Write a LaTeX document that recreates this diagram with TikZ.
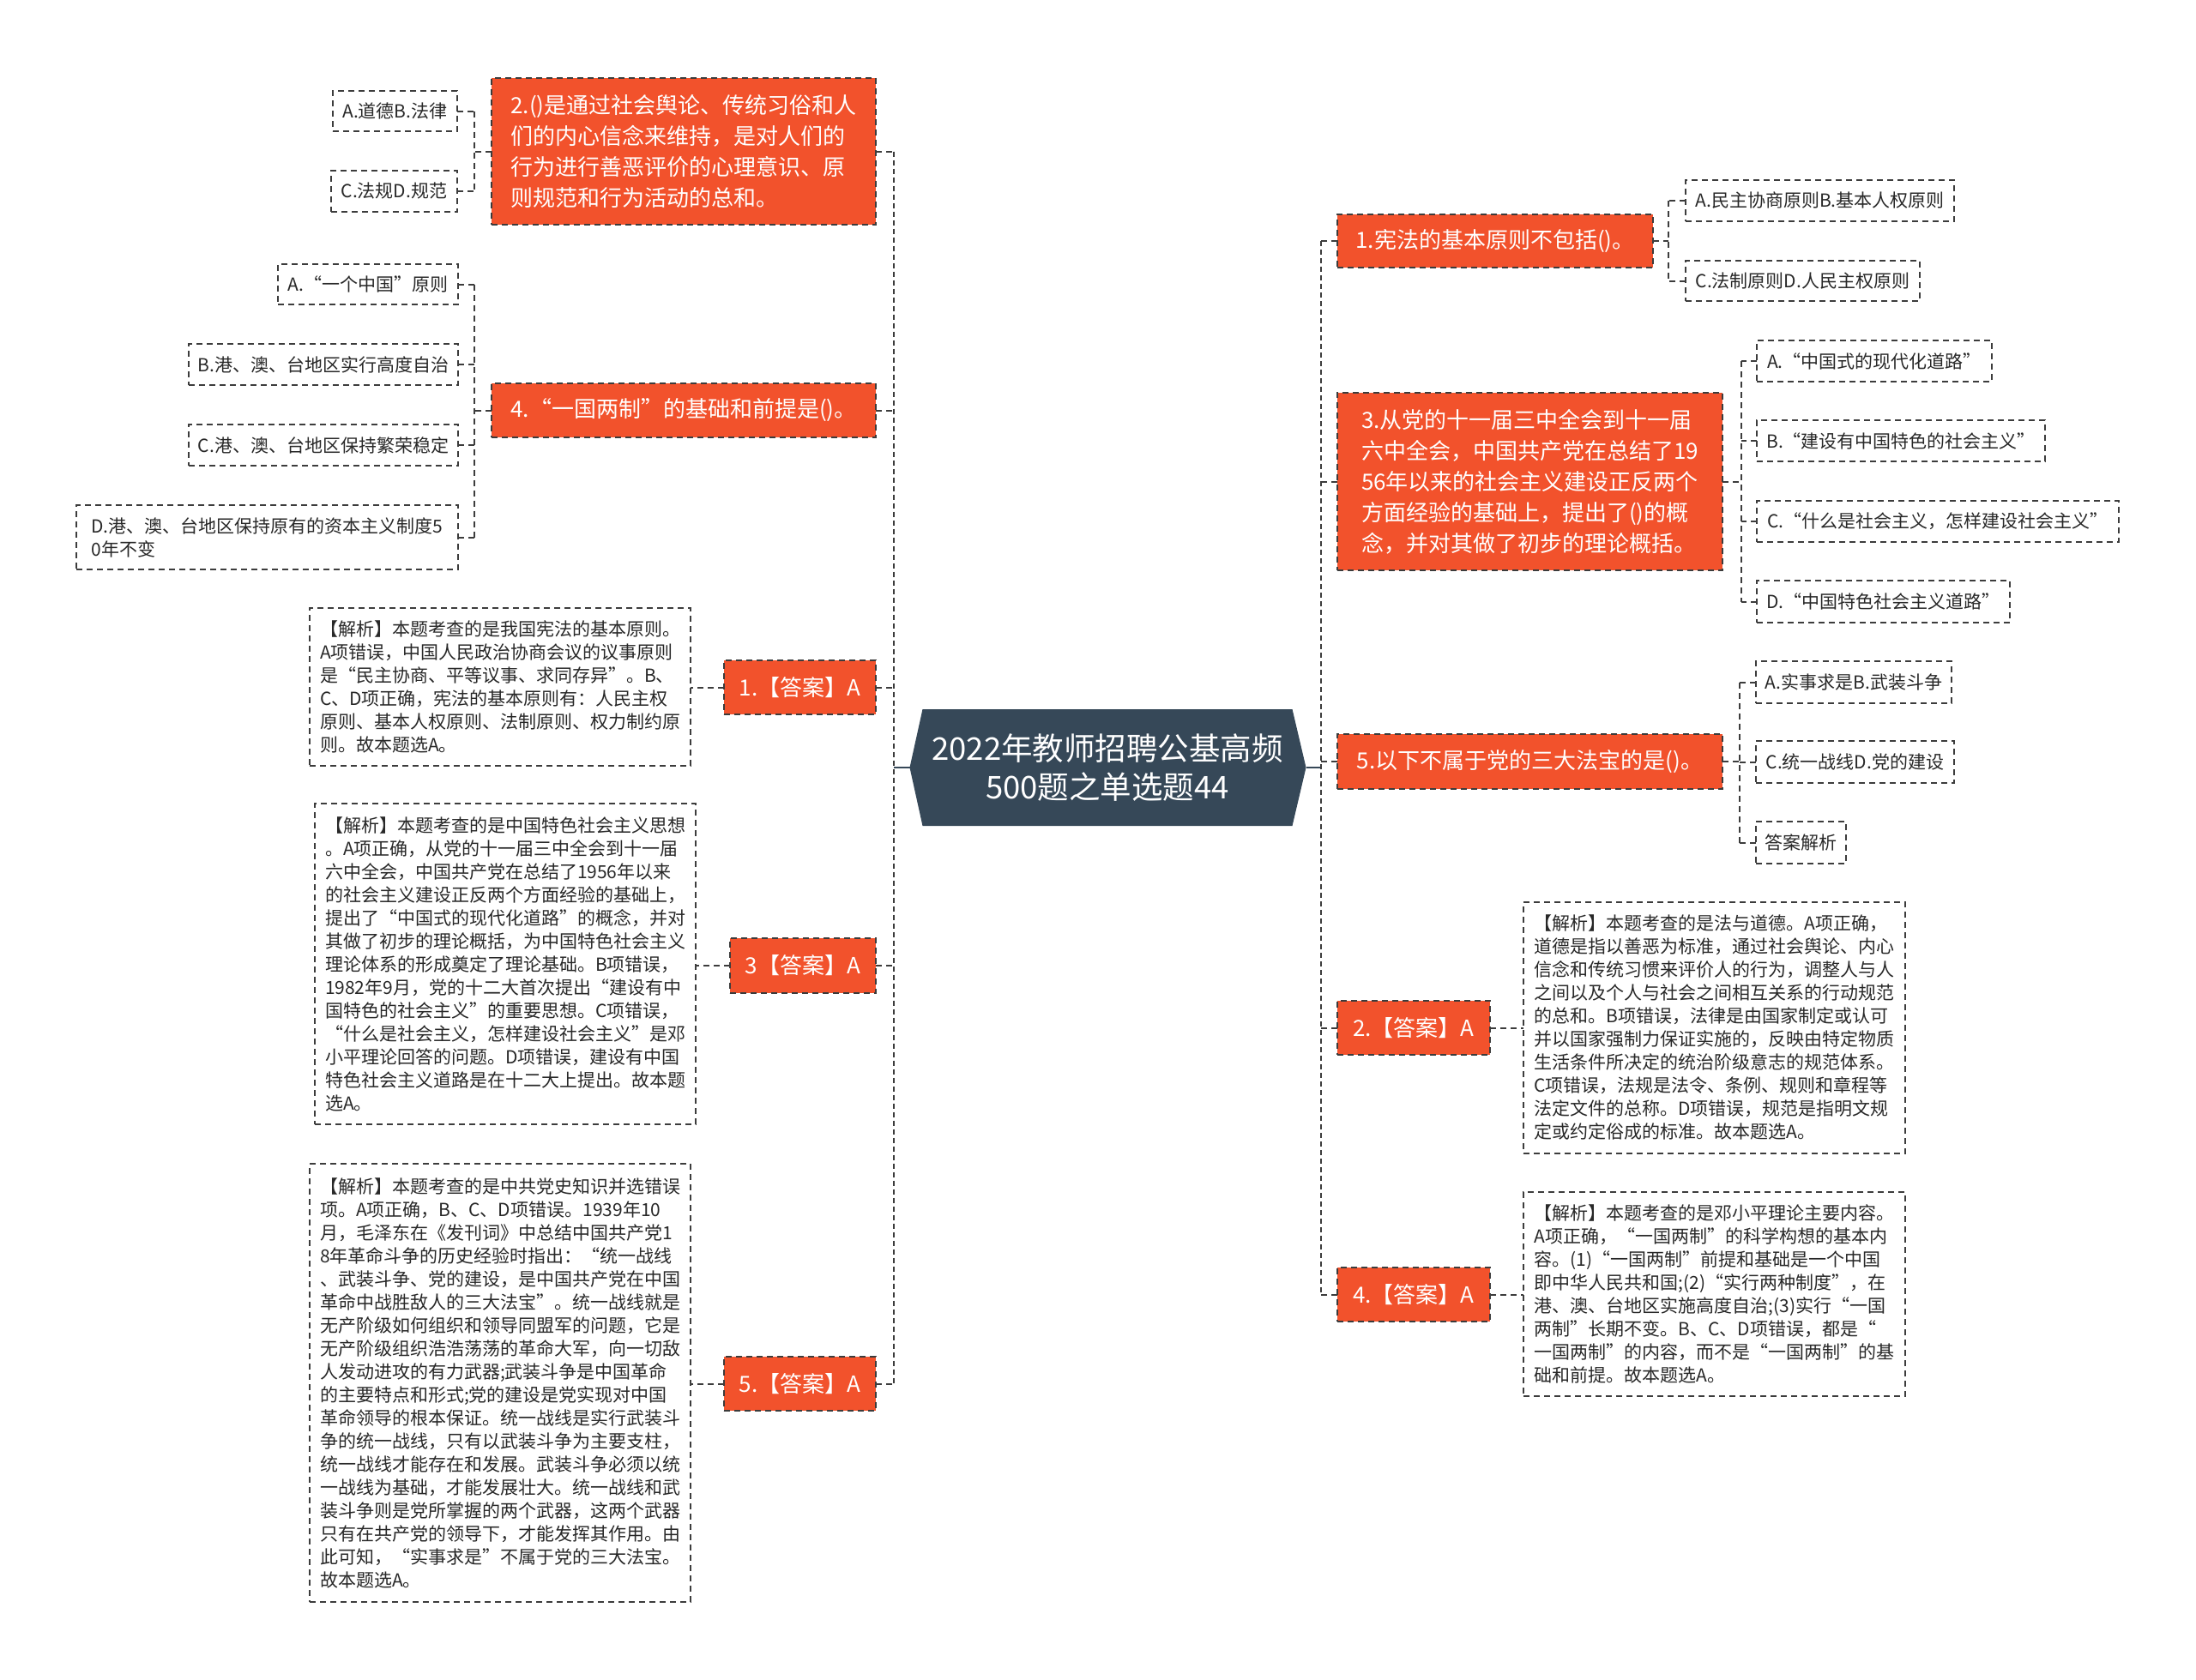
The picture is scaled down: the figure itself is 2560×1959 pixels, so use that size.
\documentclass[tikz,border=0pt]{standalone}
\usepackage{fontspec}
\setmainfont{Noto Sans CJK SC}
\usetikzlibrary{backgrounds}
\definecolor{orangeM}{RGB}{242,82,44}
\definecolor{slateC}{RGB}{54,72,88}
\definecolor{lineC}{RGB}{60,60,60}
\definecolor{txtC}{RGB}{40,40,40}
\tikzset{
  every node/.style={inner sep=0pt, outer sep=0pt},
  dsh/.style={dash pattern=on 7pt off 5pt, line width=2pt, draw=lineC},
  mainq/.style={dsh, fill=orangeM, text=white, font=\fontsize{26}{36}\selectfont, align=left},
  ansbox/.style={dsh, fill=orangeM, text=white, font=\fontsize{26}{36}\selectfont, align=center},
  optbox/.style={dsh, fill=white, text=txtC, font=\fontsize{21}{27}\selectfont, align=left},
  explbox/.style={dsh, fill=white, text=txtC, font=\fontsize{21}{27}\selectfont, align=left},
  conn/.style={dsh},
  busline/.style={dash pattern=on 6pt off 4pt, line width=2.5pt, draw=lineC},
  hubconn/.style={line width=2.5pt, draw=slateC},
}
\begin{document}
\begin{tikzpicture}[x=1pt,y=1pt]
\useasboundingbox (0,0) rectangle (2560,-1959);

% centre
\node[text=white, font=\fontsize{36.5}{45}\selectfont, align=center, minimum width=431pt, minimum height=136pt] (C) at (1291,-895) {2022年教师招聘公基高频\\500题之单选题44};
\coordinate (CL) at ([xshift=-15pt]C.west);
\coordinate (CR) at ([xshift=16pt]C.east);
\begin{pgfonlayer}{background}
\fill[white] (0,0) rectangle (2560,-1959);
\fill[slateC] (C.north west) -- (C.north east) -- (CR) -- (C.south east) -- (C.south west) -- (CL) -- cycle;
\end{pgfonlayer}

\coordinate (busL) at (1042,0);
\coordinate (busR) at (1540,0);
\coordinate (bL) at (553,0);
\coordinate (bR1) at (1945,0);
\coordinate (bR2) at (2030,0);
\coordinate (bR3) at (2028,0);

% left main nodes
\node[mainq, minimum width=448pt, minimum height=171pt] (L1) at (797,-176.5) {2.()是通过社会舆论、传统习俗和人\\们的内心信念来维持，是对人们的\\行为进行善恶评价的心理意识、原\\则规范和行为活动的总和。};
\node[mainq, minimum width=448pt, minimum height=63pt] (L2) at (797,-478.5) {4.“一国两制”的基础和前提是()。};
\node[ansbox, minimum width=177pt, minimum height=63pt] (L3) at (932.5,-801.5) {1.【答案】A};
\node[ansbox, minimum width=170pt, minimum height=64pt] (L4) at (936,-1126) {3【答案】A};
\node[ansbox, minimum width=177pt, minimum height=63pt] (L5) at (932.5,-1613.5) {5.【答案】A};

% left options
\node[optbox, minimum width=145pt, minimum height=47pt] (A1) at (460.5,-129.5) {A.道德B.法律};
\node[optbox, minimum width=147pt, minimum height=48pt] (C1) at (459.5,-223) {C.法规D.规范};
\node[optbox, minimum width=210pt, minimum height=47pt] (A2) at (429,-331.5) {A.“一个中国”原则};
\node[optbox, minimum width=314pt, minimum height=48pt] (B2) at (377,-425) {B.港、澳、台地区实行高度自治};
\node[optbox, minimum width=314pt, minimum height=48pt] (C2) at (377,-519) {C.港、澳、台地区保持繁荣稳定};
\node[optbox, minimum width=445pt, minimum height=75pt] (D2) at (311.5,-626.5) {D.港、澳、台地区保持原有的资本主义制度5\\0年不变};

% left explanations
\node[explbox, minimum width=444pt, minimum height=184pt] (E1) at (583,-801) {【解析】本题考查的是我国宪法的基本原则。\\A项错误，中国人民政治协商会议的议事原则\\是“民主协商、平等议事、求同存异”。B、\\C、D项正确，宪法的基本原则有：人民主权\\原则、基本人权原则、法制原则、权力制约原\\则。故本题选A。};
\node[explbox, minimum width=444pt, minimum height=374pt] (E3) at (589,-1124) {【解析】本题考查的是中国特色社会主义思想\\。A项正确，从党的十一届三中全会到十一届\\六中全会，中国共产党在总结了1956年以来\\的社会主义建设正反两个方面经验的基础上，\\提出了“中国式的现代化道路”的概念，并对\\其做了初步的理论概括，为中国特色社会主义\\理论体系的形成奠定了理论基础。B项错误，\\1982年9月，党的十二大首次提出“建设有中\\国特色的社会主义”的重要思想。C项错误，\\“什么是社会主义，怎样建设社会主义”是邓\\小平理论回答的问题。D项错误，建设有中国\\特色社会主义道路是在十二大上提出。故本题\\选A。};
\node[explbox, minimum width=444pt, minimum height=511pt] (E5) at (583,-1612.5) {【解析】本题考查的是中共党史知识并选错误\\项。A项正确，B、C、D项错误。1939年10\\月，毛泽东在《发刊词》中总结中国共产党1\\8年革命斗争的历史经验时指出：“统一战线\\、武装斗争、党的建设，是中国共产党在中国\\革命中战胜敌人的三大法宝”。统一战线就是\\无产阶级如何组织和领导同盟军的问题，它是\\无产阶级组织浩浩荡荡的革命大军，向一切敌\\人发动进攻的有力武器;武装斗争是中国革命\\的主要特点和形式;党的建设是党实现对中国\\革命领导的根本保证。统一战线是实行武装斗\\争的统一战线，只有以武装斗争为主要支柱，\\统一战线才能存在和发展。武装斗争必须以统\\一战线为基础，才能发展壮大。统一战线和武\\装斗争则是党所掌握的两个武器，这两个武器\\只有在共产党的领导下，才能发挥其作用。由\\此可知，“实事求是”不属于党的三大法宝。\\故本题选A。};

% right main nodes
\node[mainq, minimum width=368pt, minimum height=62pt] (R1) at (1743,-281) {1.宪法的基本原则不包括()。};
\node[mainq, minimum width=449pt, minimum height=207pt] (R2) at (1783.5,-561.5) {3.从党的十一届三中全会到十一届\\六中全会，中国共产党在总结了19\\56年以来的社会主义建设正反两个\\方面经验的基础上，提出了()的概\\念，并对其做了初步的理论概括。};
\node[mainq, minimum width=449pt, minimum height=64pt] (R3) at (1783.5,-888) {5.以下不属于党的三大法宝的是()。};
\node[ansbox, minimum width=178pt, minimum height=63pt] (R4) at (1648,-1198.5) {2.【答案】A};
\node[ansbox, minimum width=178pt, minimum height=63pt] (R5) at (1648,-1509.5) {4.【答案】A};

% right options
\node[optbox, minimum width=313pt, minimum height=48pt] (RA1) at (2121.5,-234) {A.民主协商原则B.基本人权原则};
\node[optbox, minimum width=273pt, minimum height=47pt] (RC1) at (2101.5,-327.5) {C.法制原则D.人民主权原则};
\node[optbox, minimum width=274pt, minimum height=48pt] (RA2) at (2185,-421) {A.“中国式的现代化道路”};
\node[optbox, minimum width=336pt, minimum height=48pt] (RB2) at (2216,-514) {B.“建设有中国特色的社会主义”};
\node[optbox, minimum width=422pt, minimum height=48pt] (RC2) at (2259,-608) {C.“什么是社会主义，怎样建设社会主义”};
\node[optbox, minimum width=295pt, minimum height=49pt] (RD2) at (2195.5,-701.5) {D.“中国特色社会主义道路”};
\node[optbox, minimum width=228pt, minimum height=49pt] (RA3) at (2161,-795.5) {A.实事求是B.武装斗争};
\node[optbox, minimum width=231pt, minimum height=49pt] (RC3) at (2162.5,-888.5) {C.统一战线D.党的建设};
\node[optbox, minimum width=105pt, minimum height=49pt] (RX3) at (2099.5,-982.5) {答案解析};

% right explanations
\node[explbox, minimum width=445pt, minimum height=293pt] (E2) at (1998.5,-1198.5) {【解析】本题考查的是法与道德。A项正确，\\道德是指以善恶为标准，通过社会舆论、内心\\信念和传统习惯来评价人的行为，调整人与人\\之间以及个人与社会之间相互关系的行动规范\\的总和。B项错误，法律是由国家制定或认可\\并以国家强制力保证实施的，反映由特定物质\\生活条件所决定的统治阶级意志的规范体系。\\C项错误，法规是法令、条例、规则和章程等\\法定文件的总称。D项错误，规范是指明文规\\定或约定俗成的标准。故本题选A。};
\node[explbox, minimum width=445pt, minimum height=238pt] (E4) at (1998.5,-1509) {【解析】本题考查的是邓小平理论主要内容。\\A项正确，“一国两制”的科学构想的基本内\\容。(1)“一国两制”前提和基础是一个中国\\即中华人民共和国;(2)“实行两种制度”，在\\港、澳、台地区实施高度自治;(3)实行“一国\\两制”长期不变。B、C、D项错误，都是“\\一国两制”的内容，而不是“一国两制”的基\\础和前提。故本题选A。};

% connectors: hub
\draw[hubconn] (CL) -- (CL -| busL);
\draw[hubconn] (CR) -- (CR -| busR);
\draw[busline] (L1.east -| busL) -- (L5.east -| busL);
\draw[busline] (R1.west -| busR) -- (R5.west -| busR);
\foreach \n in {L1,L2,L3,L4,L5} {\draw[conn] (\n.east) -- (\n.east -| busL);}
\foreach \n in {R1,R2,R3,R4,R5} {\draw[conn] (\n.west) -- (\n.west -| busR);}

% left brackets
\draw[conn] (L1.west) -- (L1.west -| bL);
\draw[conn] (A1.east -| bL) -- (C1.east -| bL);
\foreach \n in {A1,C1} {\draw[conn] (\n.east) -- (\n.east -| bL);}
\draw[conn] (L2.west) -- (L2.west -| bL);
\draw[conn] (A2.east -| bL) -- (D2.east -| bL);
\foreach \n in {A2,B2,C2,D2} {\draw[conn] (\n.east) -- (\n.east -| bL);}
\draw[conn] (L3.west) -- (L3.west -| E1.east);
\draw[conn] (L4.west) -- (L4.west -| E3.east);
\draw[conn] (L5.west) -- (L5.west -| E5.east);

% right brackets
\draw[conn] (R1.east) -- (R1.east -| bR1);
\draw[conn] (RA1.west -| bR1) -- (RC1.west -| bR1);
\foreach \n in {RA1,RC1} {\draw[conn] (\n.west) -- (\n.west -| bR1);}
\draw[conn] (R2.east) -- (R2.east -| bR2);
\draw[conn] (RA2.west -| bR2) -- (RD2.west -| bR2);
\foreach \n in {RA2,RB2,RC2,RD2} {\draw[conn] (\n.west) -- (\n.west -| bR2);}
\draw[conn] (R3.east) -- (R3.east -| bR3);
\draw[conn] (RA3.west -| bR3) -- (RX3.west -| bR3);
\foreach \n in {RA3,RC3,RX3} {\draw[conn] (\n.west) -- (\n.west -| bR3);}
\draw[conn] (R4.east) -- (R4.east -| E2.west);
\draw[conn] (R5.east) -- (R5.east -| E4.west);
\end{tikzpicture}
\end{document}
